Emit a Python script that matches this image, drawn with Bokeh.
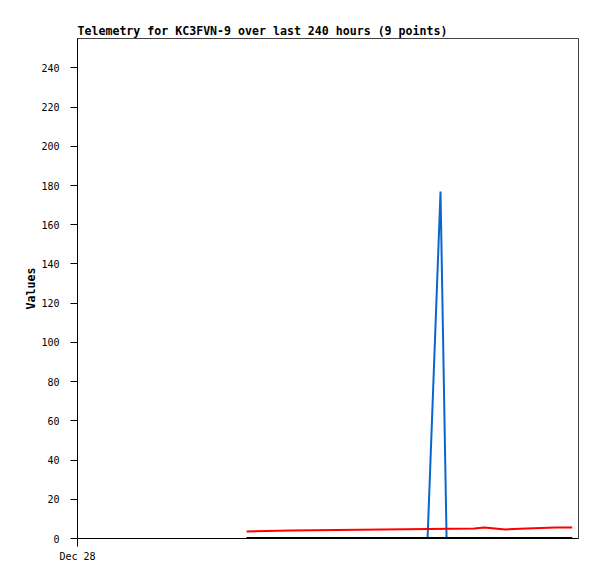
from bokeh.plotting import figure
from bokeh.models import Range1d, FixedTicker
from bokeh.embed import file_html
from bokeh.resources import INLINE

# x values: hours since Dec 28 00:00 (240-hour window)
black_h = [81, 237]
black_v = [0.3, 0.3]

blue_h = [81, 167.7, 173.9, 176.8, 237]
blue_v = [0, 0, 177, 0, 0]

red_h = [81, 102, 146, 190, 195, 200, 205, 215, 229, 237]
red_v = [3.6, 4.1, 4.6, 5.1, 5.6, 5.1, 4.6, 5.1, 5.6, 5.6]

y_ticks = [0, 20, 40, 60, 80, 100, 120, 140, 160, 180, 200, 220, 240]
x_ticks = [0]
x_tick_labels = {0: "Dec 28"}

title = "Telemetry for KC3FVN-9 over last 240 hours (9 points)"
FONT = "DejaVu Sans Mono"

p = figure(width=589, height=571, output_backend="svg", toolbar_location=None,
           x_range=Range1d(0, 240), y_range=Range1d(0, 255),
           min_border_left=77, min_border_right=11, min_border_top=38, min_border_bottom=33)

p.title.text = title
p.title.text_font = FONT
p.title.text_font_size = "11.6px"
p.title.text_font_style = "bold"
p.title.text_color = "black"
p.title.align = "left"
p.title.standoff = 2

p.outline_line_color = "#444444"
p.outline_line_width = 1
p.xgrid.visible = False
p.ygrid.visible = False
p.background_fill_color = "white"
p.border_fill_color = "white"

p.yaxis.ticker = FixedTicker(ticks=y_ticks)
p.yaxis.major_tick_out = 7
p.yaxis.major_tick_in = 0
p.yaxis.major_tick_line_color = "black"
p.yaxis.minor_tick_line_color = None
p.yaxis.major_label_standoff = 11
p.yaxis.major_label_text_font = FONT
p.yaxis.major_label_text_font_size = "10px"
p.yaxis.major_label_text_color = "black"
p.yaxis.axis_label = "Values"
p.yaxis.axis_label_text_font = FONT
p.yaxis.axis_label_text_font_size = "11.6px"
p.yaxis.axis_label_text_font_style = "bold"
p.yaxis.axis_label_text_color = "black"
p.yaxis.axis_label_standoff = 0
p.yaxis.axis_line_color = "black"

p.xaxis.ticker = FixedTicker(ticks=x_ticks)
p.xaxis.major_label_overrides = x_tick_labels
p.xaxis.major_tick_out = 8
p.xaxis.major_tick_in = 0
p.xaxis.major_tick_line_color = "black"
p.xaxis.minor_tick_line_color = None
p.xaxis.major_label_standoff = 4
p.xaxis.major_label_text_font = FONT
p.xaxis.major_label_text_font_size = "10px"
p.xaxis.major_label_text_color = "black"
p.xaxis.axis_line_color = "black"

p.line(blue_h, blue_v, line_color="#0a66cc", line_width=2)
p.line(red_h, red_v, line_color="#ff0000", line_width=2)
p.line(black_h, black_v, line_color="black", line_width=2)

open("out.html", "w").write(file_html(p, INLINE))
